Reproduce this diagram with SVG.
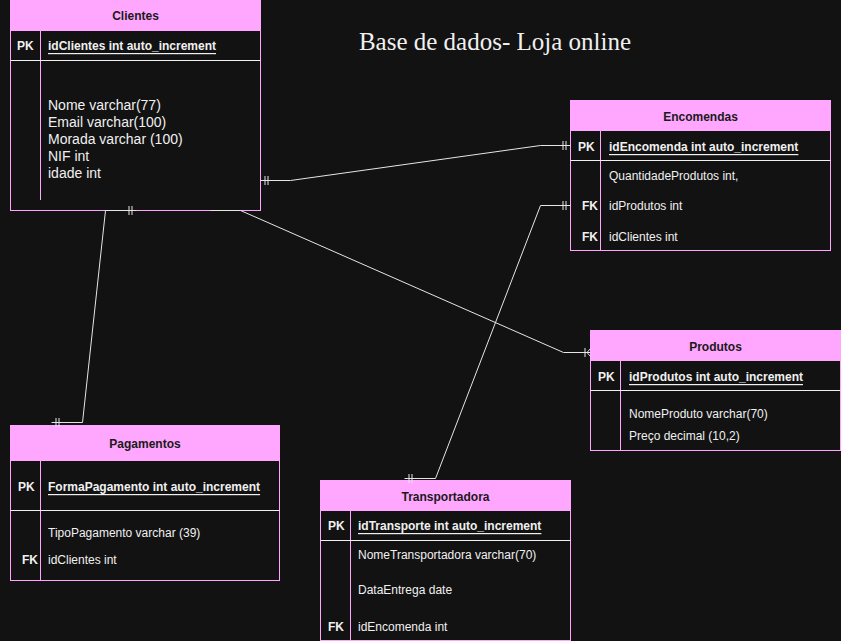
<svg xmlns="http://www.w3.org/2000/svg" width="841" height="641" viewBox="0 0 841 641">
<style>
.bg{fill:#121212}
.box{fill:#121212;stroke:#ffa6ff;stroke-width:1}
.hdr{fill:#ffa6ff;stroke:#ffa6ff;stroke-width:1}
.sep{stroke:#f0f0f0;stroke-width:1}
.div{stroke:#ffa6ff;stroke-width:1}
.ht{font-family:"Liberation Sans",Arial,sans-serif;font-size:12px;font-weight:bold;fill:#1a1a1a;text-anchor:middle;dominant-baseline:central}
.k{font-family:"Liberation Sans",Arial,sans-serif;font-size:12px;font-weight:bold;fill:#f0f0f0;dominant-baseline:central}
.pk{font-family:"Liberation Sans",Arial,sans-serif;font-size:12px;font-weight:bold;fill:#f0f0f0;text-decoration:underline;dominant-baseline:central}
.f{font-family:"Liberation Sans",Arial,sans-serif;font-size:12px;fill:#f0f0f0;dominant-baseline:central}
.f13{font-family:"Liberation Sans",Arial,sans-serif;font-size:14px;fill:#f0f0f0;dominant-baseline:central}
.title{font-family:"Liberation Serif","Times New Roman",serif;font-size:25px;fill:#f0f0f0;text-anchor:middle}
.edge{fill:none;stroke:#e6e6e6;stroke-width:1}
.m{stroke:#e6e6e6;stroke-width:1;fill:none}
</style>
<defs>
<marker id="one" markerUnits="userSpaceOnUse" markerWidth="12" markerHeight="12" viewBox="0 0 12 12" refX="12" refY="6" orient="auto-start-reverse">
<path class="m" d="M4.5,1.5V10.5M7.5,1.5V10.5"/>
</marker>
<marker id="oneMany" markerUnits="userSpaceOnUse" markerWidth="12" markerHeight="12" viewBox="0 0 12 12" refX="12" refY="6" orient="auto-start-reverse">
<path class="m" d="M6.5,1.5V10.5M8.5,6L12,2M8.5,6L12,10"/>
</marker>
</defs>
<rect class="bg" x="0" y="0" width="841" height="641"/>

<text class="title" x="495" y="50">Base de dados- Loja online</text>

<g id="clientes">
<rect class="box" x="10.5" y="0.5" width="250" height="210"/>
<rect class="hdr" x="10.5" y="0.5" width="250" height="30"/>
<text class="ht" x="135.5" y="16">Clientes</text>
<line class="div" x1="40.5" y1="30.5" x2="40.5" y2="200"/>
<line class="sep" x1="10.5" y1="60.5" x2="260.5" y2="60.5"/>
<text class="k" x="17" y="46">PK</text>
<text class="pk" x="48" y="46">idClientes int auto_increment</text>
<text class="f13" x="48" y="105">Nome varchar(77)</text>
<text class="f13" x="48" y="122">Email varchar(100)</text>
<text class="f13" x="48" y="139">Morada varchar (100)</text>
<text class="f13" x="48" y="156">NIF int</text>
<text class="f13" x="48" y="173">idade int</text>
</g>

<g id="encomendas">
<rect class="box" x="570.5" y="100.5" width="260" height="150"/>
<rect class="hdr" x="570.5" y="100.5" width="260" height="30"/>
<text class="ht" x="700.5" y="117">Encomendas</text>
<line class="div" x1="600.5" y1="130.5" x2="600.5" y2="250.5"/>
<line class="sep" x1="570.5" y1="160.5" x2="830.5" y2="160.5"/>
<text class="k" x="578" y="147">PK</text>
<text class="pk" x="609" y="147">idEncomenda int auto_increment</text>
<text class="f" x="609" y="176">QuantidadeProdutos int,</text>
<text class="k" x="598" y="206" text-anchor="end">FK</text>
<text class="f" x="609" y="206">idProdutos int</text>
<text class="k" x="598" y="237" text-anchor="end">FK</text>
<text class="f" x="609" y="237">idClientes int</text>
</g>

<g id="produtos">
<rect class="box" x="590.5" y="330.5" width="250" height="120"/>
<rect class="hdr" x="590.5" y="330.5" width="250" height="30"/>
<text class="ht" x="715.5" y="347">Produtos</text>
<line class="div" x1="620.5" y1="360.5" x2="620.5" y2="450.5"/>
<line class="sep" x1="590.5" y1="390.5" x2="840.5" y2="390.5"/>
<text class="k" x="598" y="377">PK</text>
<text class="pk" x="629" y="377">idProdutos int auto_increment</text>
<text class="f" x="629" y="414">NomeProduto varchar(70)</text>
<text class="f" x="629" y="436">Preço decimal (10,2)</text>
</g>

<g id="pagamentos">
<rect class="box" x="10.5" y="425.5" width="269" height="155"/>
<rect class="hdr" x="10.5" y="425.5" width="269" height="35"/>
<text class="ht" x="145" y="444">Pagamentos</text>
<line class="div" x1="40.5" y1="460.5" x2="40.5" y2="580.5"/>
<line class="sep" x1="10.5" y1="510.5" x2="279.5" y2="510.5"/>
<text class="k" x="18" y="487">PK</text>
<text class="pk" x="48" y="487">FormaPagamento int auto_increment</text>
<text class="f" x="48" y="533">TipoPagamento varchar (39)</text>
<text class="k" x="38" y="560" text-anchor="end">FK</text>
<text class="f" x="48" y="560">idClientes int</text>
</g>

<g id="transportadora">
<rect class="box" x="320.5" y="480.5" width="250" height="160"/>
<rect class="hdr" x="320.5" y="480.5" width="250" height="30"/>
<text class="ht" x="445.5" y="497">Transportadora</text>
<line class="div" x1="350.5" y1="510.5" x2="350.5" y2="640.5"/>
<line class="sep" x1="320.5" y1="540.5" x2="570.5" y2="540.5"/>
<text class="k" x="328" y="526">PK</text>
<text class="pk" x="358" y="526">idTransporte int auto_increment</text>
<text class="f" x="358" y="555">NomeTransportadora varchar(70)</text>
<text class="f" x="358" y="590">DataEntrega date</text>
<text class="k" x="328" y="627">FK</text>
<text class="f" x="358" y="627">idEncomenda int</text>
</g>

<g id="connectors">
<path id="e-clientes-encomendas" class="edge" d="M260.5,180.5H290.5L540.5,145.5H570.5" marker-start="url(#one)" marker-end="url(#one)"/>
<path id="e-encomendas-transportadora" class="edge" d="M570.5,205.5H540.5L435.5,478.5H404.5" marker-start="url(#one)" marker-end="url(#one)"/>
<path id="e-clientes-produtos" class="edge" d="M210.5,210.5H240.5L563.5,352.5H590.5" marker-end="url(#oneMany)"/>
<path id="e-clientes-pagamentos" class="edge" d="M136.5,210.5H105.5L82.5,422.5H51.5" marker-start="url(#one)" marker-end="url(#one)"/>
</g>
</svg>
